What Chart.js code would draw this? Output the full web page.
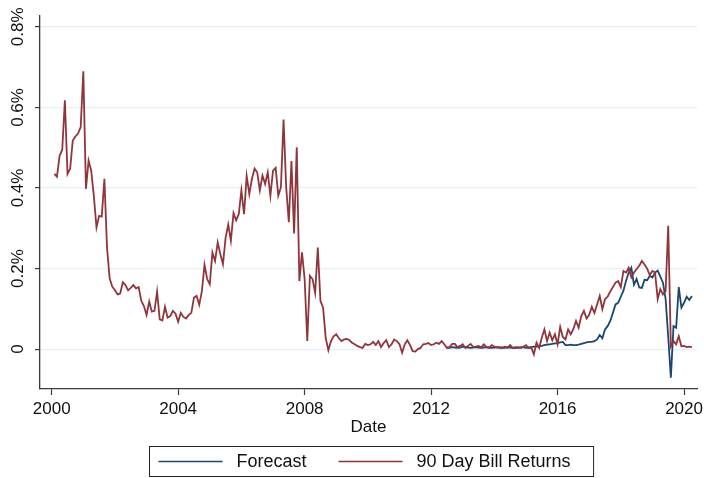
<!DOCTYPE html>
<html>
<head>
<meta charset="utf-8">
<script src="https://cdn.jsdelivr.net/npm/chart.js@4.4.1/dist/chart.umd.min.js"></script>
<style>
  html, body { margin: 0; padding: 0; background: #ffffff; }
  #wrap { width: 704px; height: 478px; }
</style>
</head>
<body>
<div id="wrap"><canvas id="chart" width="704" height="478"></canvas></div>
<script>
// Monthly 90-day bill returns (percent per month), first value = Feb 2000
const billStart = [2000, 2];
const billReturns = [
  0.435, 0.428, 0.48, 0.495, 0.618, 0.435, 0.448, 0.518, 0.528, 0.535, 0.551,
  0.69, 0.398, 0.468, 0.443, 0.38, 0.302, 0.331, 0.329, 0.423, 0.252, 0.175, 0.155,
  0.146, 0.136, 0.138, 0.166, 0.159, 0.146, 0.152, 0.159, 0.151, 0.154, 0.12, 0.107,
  0.085, 0.118, 0.093, 0.095, 0.143, 0.074, 0.071, 0.105, 0.078, 0.082, 0.095, 0.088,
  0.068, 0.09, 0.08, 0.076, 0.085, 0.09, 0.128, 0.132, 0.11, 0.144, 0.209, 0.174,
  0.161, 0.24, 0.219, 0.265, 0.236, 0.211, 0.276, 0.309, 0.269, 0.338, 0.32, 0.335,
  0.394, 0.335, 0.43, 0.385, 0.423, 0.448, 0.439, 0.394, 0.431, 0.41, 0.439, 0.381,
  0.443, 0.45, 0.381, 0.402, 0.57, 0.402, 0.315, 0.467, 0.287, 0.501, 0.169, 0.24,
  0.174, 0.02, 0.182, 0.174, 0.14, 0.252, 0.12, 0.103, 0.028, -0.003, 0.02, 0.032,
  0.037, 0.027, 0.02, 0.024, 0.025, 0.022, 0.016, 0.012, 0.008, 0.005, 0.003, 0.013,
  0.01, 0.012, 0.018, 0.01, 0.02, 0.005, 0.015, 0.022, 0.005, 0.012, 0.024, 0.02,
  0.012, -0.009, 0.012, 0.022, 0.01, -0.005, -0.006, 0.0, 0.003, 0.012, 0.013, 0.015,
  0.01, 0.012, 0.016, 0.013, 0.02, 0.012, 0.003, 0.005, 0.013, 0.013, 0.005, 0.008,
  0.012, 0.003, 0.008, 0.013, 0.005, 0.006, 0.008, 0.004, 0.012, 0.005, 0.003, 0.01,
  0.006, 0.004, 0.005, 0.003, 0.006, 0.003, 0.01, 0.003, 0.004, 0.005, 0.003, 0.006,
  0.01, 0.003, 0.004, -0.013, 0.016, 0.003, 0.028, 0.049, 0.02, 0.041, 0.022, 0.037,
  0.012, 0.055, 0.03, 0.024, 0.049, 0.037, 0.05, 0.07, 0.053, 0.082, 0.095, 0.076,
  0.085, 0.105, 0.09, 0.111, 0.132, 0.099, 0.124, 0.13, 0.143, 0.154, 0.165, 0.169,
  0.154, 0.194, 0.19, 0.202, 0.178, 0.19, 0.199, 0.207, 0.219, 0.21, 0.2, 0.184,
  0.194, 0.19, 0.124, 0.149, 0.136, 0.144, 0.306, 0.007, 0.02, 0.012, 0.032, 0.007,
  0.008, 0.005, 0.006, 0.005
];

// Model forecast (percent per month), first value = Jul 2012
const forecastStart = [2012, 7];
const forecast = [
  0.004, 0.003, 0.005, 0.004, 0.003, 0.004,
  0.006, 0.005, 0.004, 0.003, 0.004, 0.005, 0.004, 0.003, 0.004, 0.005, 0.004, 0.003,
  0.004, 0.005, 0.003, 0.004, 0.003, 0.005, 0.004, 0.003, 0.004, 0.003, 0.004, 0.005,
  0.003, 0.004, 0.005, 0.006, 0.006, 0.007, 0.008, 0.01, 0.011, 0.012, 0.013, 0.014,
  0.015, 0.017, 0.018, 0.01, 0.01, 0.011, 0.01, 0.01, 0.011, 0.013, 0.015, 0.017,
  0.018, 0.018, 0.02, 0.024, 0.035, 0.027, 0.049, 0.057, 0.07, 0.09, 0.111, 0.115,
  0.13, 0.145, 0.17, 0.19, 0.202, 0.16, 0.174, 0.153, 0.152, 0.172, 0.171, 0.182,
  0.178, 0.19, 0.195, 0.18, 0.165, 0.125, 0.03, -0.071, 0.057, 0.053, 0.154, 0.103,
  0.115, 0.13, 0.122, 0.132
];

const xTickYears = [2000, 2004, 2008, 2012, 2016, 2020];
const yTickValues = [0, 0.2, 0.4, 0.6, 0.8];
const seriesNames = ['Forecast', '90 Day Bill Returns'];

const NAVY = '#1a476f';
const MAROON = '#90353b';
const AXIS = '#3a3a3a';
const FONT = '"Liberation Sans", Arial, sans-serif';

// month series -> {x: decimal year, y}
function monthly(start, values) {
  return values.map((v, k) => ({ x: start[0] + (start[1] - 1 + k) / 12, y: v }));
}

function yLabel(v) {
  return v === 0 ? '0' : v.toFixed(1) + '%';
}

// Vertical (bottom-to-top) value labels next to the y axis, placed by the y scale
const verticalYLabels = {
  id: 'verticalYLabels',
  afterDraw(chart) {
    const scale = chart.scales.y;
    const ctx = chart.ctx;
    ctx.save();
    ctx.font = '17px ' + FONT;
    ctx.fillStyle = '#111';
    ctx.textAlign = 'center';
    ctx.textBaseline = 'middle';
    const x = scale.right - 22;
    scale.ticks.forEach(t => {
      const y = scale.getPixelForValue(t.value);
      ctx.save();
      ctx.translate(x, y);
      ctx.rotate(-Math.PI / 2);
      ctx.fillText(yLabel(t.value), 0, 0);
      ctx.restore();
    });
    ctx.restore();
  }
};

// Stata-style legend: boxed row of line keys, centred under the plot area
const boxedLegend = {
  id: 'boxedLegend',
  afterDraw(chart) {
    const ctx = chart.ctx;
    const area = chart.chartArea;
    ctx.save();
    ctx.font = '18px ' + FONT;
    const keyW = 64, keyGap = 14, itemGap = 32, padL = 9, padR = 23;
    const sets = chart.data.datasets;
    let total = padL + padR;
    sets.forEach((ds, i) => {
      total += keyW + keyGap + ctx.measureText(ds.label).width;
      if (i < sets.length - 1) total += itemGap;
    });
    const h = 30;
    const left = Math.round((area.left + area.right) / 2 - total / 2 + 3) + 0.5;
    const top = chart.height - h - 1.5;
    ctx.strokeStyle = '#222';
    ctx.lineWidth = 1;
    ctx.strokeRect(left, top, total, h);
    let x = left + padL;
    const cy = top + h / 2;
    sets.forEach((ds) => {
      ctx.strokeStyle = ds.borderColor;
      ctx.lineWidth = 1.5;
      ctx.beginPath();
      ctx.moveTo(x, cy);
      ctx.lineTo(x + keyW, cy);
      ctx.stroke();
      x += keyW + keyGap;
      ctx.fillStyle = '#111';
      ctx.textBaseline = 'middle';
      ctx.textAlign = 'left';
      ctx.fillText(ds.label, x, cy + 1);
      x += ctx.measureText(ds.label).width + itemGap;
    });
    ctx.restore();
  }
};

new Chart(document.getElementById('chart'), {
  type: 'line',
  data: {
    datasets: [
      {
        label: seriesNames[0],
        data: monthly(forecastStart, forecast),
        borderColor: NAVY,
        borderWidth: 1.8,
        pointRadius: 0,
        tension: 0,
        order: 1
      },
      {
        label: seriesNames[1],
        data: monthly(billStart, billReturns),
        borderColor: MAROON,
        borderWidth: 1.8,
        pointRadius: 0,
        tension: 0,
        order: 0
      }
    ]
  },
  options: {
    responsive: false,
    animation: false,
    devicePixelRatio: 1,
    layout: { padding: { left: 35, right: 7, top: 16, bottom: 42 } },
    plugins: {
      legend: { display: false },
      tooltip: { enabled: false }
    },
    scales: {
      x: {
        type: 'linear',
        min: 1999.63,
        max: 2020.41,
        afterBuildTicks(scale) { scale.ticks = xTickYears.map(v => ({ value: v })); },
        afterFit(scale) { scale.paddingLeft = 0; scale.paddingRight = 0; },
        ticks: {
          callback: v => String(v),
          font: { family: FONT, size: 17, lineHeight: 1 },
          color: '#111',
          padding: 6,
          maxRotation: 0,
          minRotation: 0
        },
        grid: { drawOnChartArea: false, drawTicks: true, tickLength: 6, tickColor: AXIS, tickWidth: 1.2 },
        border: { color: AXIS, width: 1.3 },
        title: {
          display: true,
          text: 'Date',
          color: '#111',
          font: { family: FONT, size: 17, lineHeight: 1 },
          padding: { top: -5, bottom: 0 }
        }
      },
      y: {
        min: -0.099,
        max: 0.827,
        afterBuildTicks(scale) { scale.ticks = yTickValues.map(v => ({ value: v })); },
        ticks: { display: false },
        grid: { color: '#e8eff2', lineWidth: 1.2, drawTicks: true, tickLength: 5, tickColor: AXIS, tickWidth: 1.2 },
        border: { color: AXIS, width: 1.3 }
      }
    }
  },
  plugins: [verticalYLabels, boxedLegend]
});
</script>
</body>
</html>
